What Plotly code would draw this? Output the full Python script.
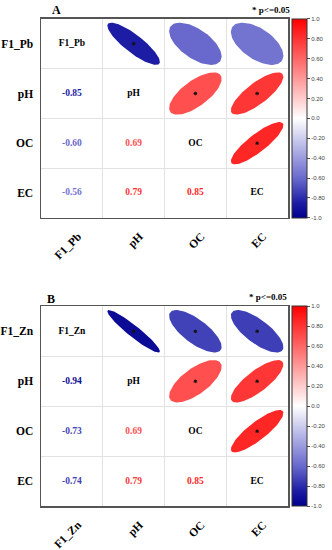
import numpy as np
import plotly.graph_objects as go
from plotly.colors import sample_colorscale

# ---------------- data ----------------
labels_A = ["F1_Pb", "pH", "OC", "EC"]
labels_B = ["F1_Zn", "pH", "OC", "EC"]

corr_A = [[1.00, -0.85, -0.60, -0.56],
          [-0.85, 1.00, 0.69, 0.79],
          [-0.60, 0.69, 1.00, 0.85],
          [-0.56, 0.79, 0.85, 1.00]]
corr_B = [[1.00, -0.94, -0.73, -0.74],
          [-0.94, 1.00, 0.69, 0.79],
          [-0.73, 0.69, 1.00, 0.85],
          [-0.74, 0.79, 0.85, 1.00]]
# significance (p<=0.05) for upper-triangle pairs
sig_A = [[False, True, False, False],
         [False, False, True, True],
         [False, False, False, True],
         [False, False, False, False]]
sig_B = [[False, True, True, True],
         [False, False, True, True],
         [False, False, False, True],
         [False, False, False, False]]

cbar_vals = [-1.0, -0.8, -0.6, -0.4, -0.2, 0.0, 0.2, 0.4, 0.6, 0.8, 1.0]
cbar_text = ["-1.0", "-0.80", "-0.60", "-0.40", "-0.20", "0.0",
             "0.20", "0.40", "0.60", "0.80", "1.0"]

# ---------------- style ----------------
W, H = 332, 550
colorscale = [[0.0, "rgb(0,0,139)"], [0.075, "rgb(28,28,165)"],
              [0.2, "rgb(105,105,205)"], [0.5, "rgb(255,255,255)"],
              [1.0, "rgb(255,0,0)"]]
SERIF = "Liberation Serif"


def col(v):
    return sample_colorscale(colorscale, [(v + 1) / 2])[0]


fig = go.Figure()

panels = [
    dict(labels=labels_A, corr=corr_A, sig=sig_A, xa="x", ya="y", title="A",
         box=(41, 288, 19, 219), title_x=50, title_y=10, p_x=292, p_y=10),
    dict(labels=labels_B, corr=corr_B, sig=sig_B, xa="x2", ya="y2", title="B",
         box=(41, 288, 308, 509), title_x=45, title_y=301, p_x=289, p_y=299),
]

k = np.linspace(0, 2 * np.pi, 100)

for pi, p in enumerate(panels):
    labs, corr, sig = p["labels"], p["corr"], p["sig"]
    n = len(labs)
    txt_x, txt_y, txt_s, txt_c = [], [], [], []
    star_x, star_y = [], []
    for i in range(n):
        for j in range(n):
            r = corr[i][j]
            if j > i:
                d = np.arccos(r)
                ex = j + 0.85 * np.cos(k + d / 2) / 2
                ey = i - 0.85 * np.cos(k - d / 2) / 2
                fig.add_trace(go.Scatter(
                    x=ex, y=ey, mode="lines", fill="toself",
                    fillcolor=col(r), line=dict(width=0, color=col(r)),
                    xaxis=p["xa"], yaxis=p["ya"], hoverinfo="skip",
                    showlegend=False))
                if sig[i][j]:
                    star_x.append(j)
                    star_y.append(i)
            elif j < i:
                txt_x.append(j)
                txt_y.append(i)
                txt_s.append(f"{r:.2f}")
                txt_c.append(col(r))
            else:
                txt_x.append(j)
                txt_y.append(i)
                txt_s.append(labs[i])
                txt_c.append("black")
    fig.add_trace(go.Scatter(
        x=txt_x, y=txt_y, text=txt_s, mode="text",
        textfont=dict(family=SERIF, size=9.5, color=txt_c, weight="bold"),
        xaxis=p["xa"], yaxis=p["ya"], showlegend=False, hoverinfo="skip"))
    fig.add_trace(go.Scatter(
        x=star_x, y=star_y, mode="markers",
        marker=dict(symbol="asterisk-open", size=3, color="#111",
                    line=dict(width=1, color="#111")),
        xaxis=p["xa"], yaxis=p["ya"], showlegend=False, hoverinfo="skip"))

    # colorbar carrier
    x0, x1, y0, y1 = p["box"]
    fig.add_trace(go.Scatter(
        x=[0], y=[0], mode="markers", xaxis=p["xa"], yaxis=p["ya"],
        marker=dict(size=0.1, opacity=0, color=[0], cmin=-1, cmax=1,
                    colorscale=colorscale, showscale=True,
                    colorbar=dict(
                        x=292 / W, xanchor="left", xpad=0, ypad=0,
                        y=1 - (y0 + y1) / 2 / H, yanchor="middle",
                        lenmode="pixels", len=(y1 - y0) - 1,
                        thickness=15, outlinewidth=1, outlinecolor="#333",
                        tickmode="array", tickvals=cbar_vals, ticktext=cbar_text,
                        ticks="outside", ticklen=3, tickwidth=1, tickcolor="#555",
                        tickfont=dict(family="Liberation Sans", size=6, color="#444"))),
        showlegend=False, hoverinfo="skip"))

    axis_common = dict(
        range=[-0.5, n - 0.5], tickmode="array", tickvals=list(range(n)),
        ticktext=labs, showgrid=False, zeroline=False,
        showline=True, mirror=True, linecolor="#555", linewidth=1.5,
        tickfont=dict(family=SERIF, size=11.5, color="black", weight="bold"),
        minor=dict(tickmode="array", tickvals=[v + 0.5 for v in range(n - 1)],
                   showgrid=True, gridcolor="#e2e2e2", gridwidth=1, ticks=""),
        fixedrange=True)
    xa_name = "xaxis" if pi == 0 else "xaxis2"
    ya_name = "yaxis" if pi == 0 else "yaxis2"
    fig.update_layout(**{
        xa_name: dict(axis_common, domain=[x0 / W, x1 / W], tickangle=-45,
                      anchor=p["ya"], ticklabelstandoff=6, ticklabelshift=6),
        ya_name: dict(axis_common, domain=[1 - y1 / H, 1 - y0 / H],
                      range=[n - 0.5, -0.5], anchor=p["xa"], ticklabelstandoff=4),
    })
    fig.add_annotation(text=p["title"], x=p["title_x"] / W, y=1 - p["title_y"] / H,
                       xref="paper", yref="paper", xanchor="left", yanchor="middle",
                       showarrow=False,
                       font=dict(family=SERIF, size=12, color="black", weight="bold"))
    fig.add_annotation(text="* p<=0.05", x=p["p_x"] / W, y=1 - p["p_y"] / H,
                       xref="paper", yref="paper", xanchor="right", yanchor="middle",
                       showarrow=False,
                       font=dict(family=SERIF, size=9, color="black", weight="bold"))

fig.update_layout(width=W, height=H, margin=dict(l=0, r=0, t=0, b=0),
                  paper_bgcolor="white", plot_bgcolor="white", showlegend=False)

fig.write_html("out.html",
               config={"displayModeBar": False, "staticPlot": True},
               post_script="document.body.style.margin='0';"
                           "document.body.style.padding='0';"
                           "document.documentElement.style.overflow='hidden';")
